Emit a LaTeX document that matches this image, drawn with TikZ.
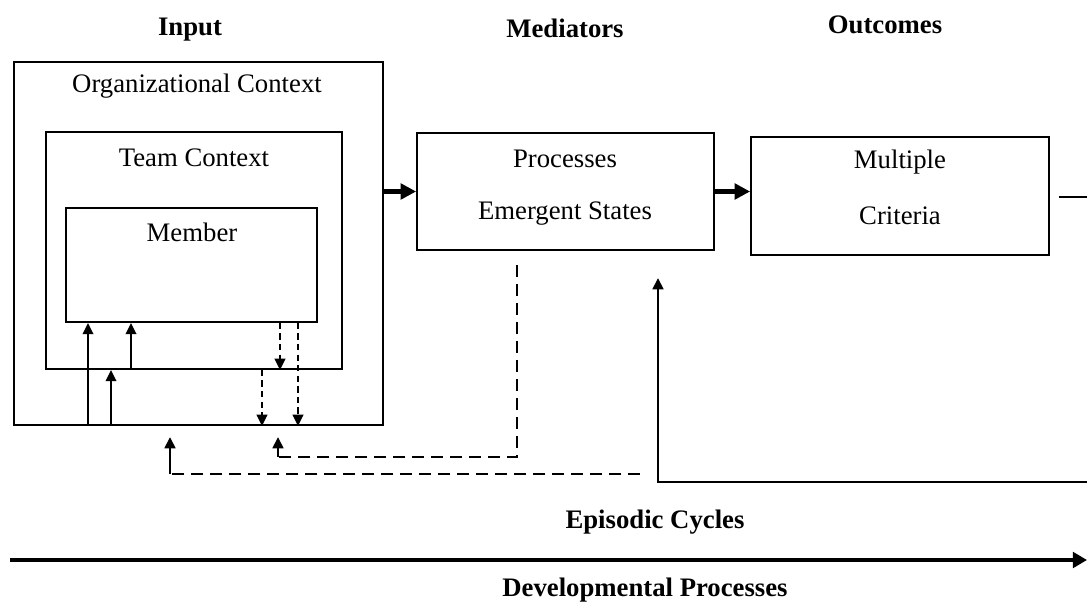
\documentclass[tikz,border=0pt]{standalone}
\usepackage{fontspec}
\setmainfont{Liberation Serif}
\usetikzlibrary{arrows.meta,positioning}
\newcommand\pxu{0.025cm}

\begin{document}
\begin{tikzpicture}[x=0.025cm,y=-0.025cm,
    font=\fontsize{19}{22}\selectfont,
    frame/.style={draw,line width=1.3pt,inner sep=0pt},
    head/.style={font=\fontsize{19}{22}\selectfont\bfseries},
    flow/.style={line width=3pt,-{Triangle[length=11pt,width=11pt]}},
    link/.style={line width=1.5pt},
    tip/.style={-{Triangle[length=8pt,width=7.5pt]}},
    smalldash/.style={dash pattern=on 4.5pt off 3pt},
    bigdash/.style={line width=2pt,dash pattern=on 8.5pt off 5pt}]
  \useasboundingbox (0,0) rectangle (1087,604);

  % headings
  \node[head] (hin)  at (190,30) {Input};
  \node[head] (hmed) at (565,28) {Mediators};
  \node[head] (hout) at (885,25) {Outcomes};

  % nested input boxes
  \node[frame,minimum width=369*\pxu,minimum height=363*\pxu] (org) at (198.5,243.5) {};
  \node[frame,minimum width=296*\pxu,minimum height=237*\pxu] (team) at (194,250.5) {};
  \node[frame,minimum width=251*\pxu,minimum height=114*\pxu] (member) at (191.5,265) {};
  \node (orgtxt) at (197,86) {Organizational Context};
  \node (teamtxt) at (194,158) {Team Context};
  \node (memtxt) at (192,232) {Member};

  % mediators and outcomes
  \node[frame,minimum width=297*\pxu,minimum height=117*\pxu] (proc) at (565.5,191.5) {};
  \node (proctxt) at (565,159) {Processes};
  \node (emtxt) at (565,214) {Emergent States};
  \node[frame,minimum width=298*\pxu,minimum height=118*\pxu] (crit) at (900,196) {};
  \node (crittxt) at (900,162) {Multiple};
  \node (crittxtb) at (900,216) {Criteria};

  \draw[flow] (org.east |- proc.west) -- (proc.west);
  \draw[flow] (proc.east) -- (proc.east -| crit.west);

  % inner upward links
  \coordinate (u1) at (88,0);
  \coordinate (u2) at (111,0);
  \coordinate (u3) at (131,0);
  \draw[link,tip] (org.south -| u1) -- (member.south -| u1);
  \draw[link,tip] (org.south -| u2) -- (team.south -| u2);
  \draw[link,tip] (team.south -| u3) -- (member.south -| u3);

  % inner downward links
  \coordinate (v1) at (262,0);
  \coordinate (v2) at (280,0);
  \coordinate (v3) at (298,0);
  \draw[link,smalldash,tip] (member.south -| v2) -- (team.south -| v2);
  \draw[link,smalldash,tip] (team.south -| v1) -- (org.south -| v1);
  \draw[link,smalldash,tip] (member.south -| v3) -- (org.south -| v3);

  % feedback loops
  \coordinate (fa) at (517,265);
  \coordinate (fab) at (278,457);
  \coordinate (fae) at (278,437);
  \draw[bigdash] (fa) |- (fab);
  \draw[bigdash,solid,tip] (fab) -- (fae);
  \coordinate (fb) at (640,474);
  \coordinate (fbb) at (170,474);
  \coordinate (fbe) at (170,437);
  \draw[bigdash] (fb) -- (fbb);
  \draw[bigdash,solid,tip] (fbb) -- (fbe);

  \coordinate (outr) at (1087,197);
  \coordinate (fcr) at (1087,482);
  \coordinate (fce) at (658,278);
  \draw[line width=2pt] ([xshift=9*\pxu]crit.east |- outr) -- (outr);
  \draw[line width=2pt,tip] (fcr) -| (fce);

  % time axis
  \coordinate (tl) at (10,560);
  \coordinate (tr) at (1087,560);
  \draw[line width=3.5pt,-{Triangle[length=10pt,width=11pt]}] (tl) -- (tr);
  \node[head] (epi) at (655,522) {Episodic Cycles};
  \node[head] (dev) at (645,590) {Developmental Processes};
\end{tikzpicture}
\end{document}
